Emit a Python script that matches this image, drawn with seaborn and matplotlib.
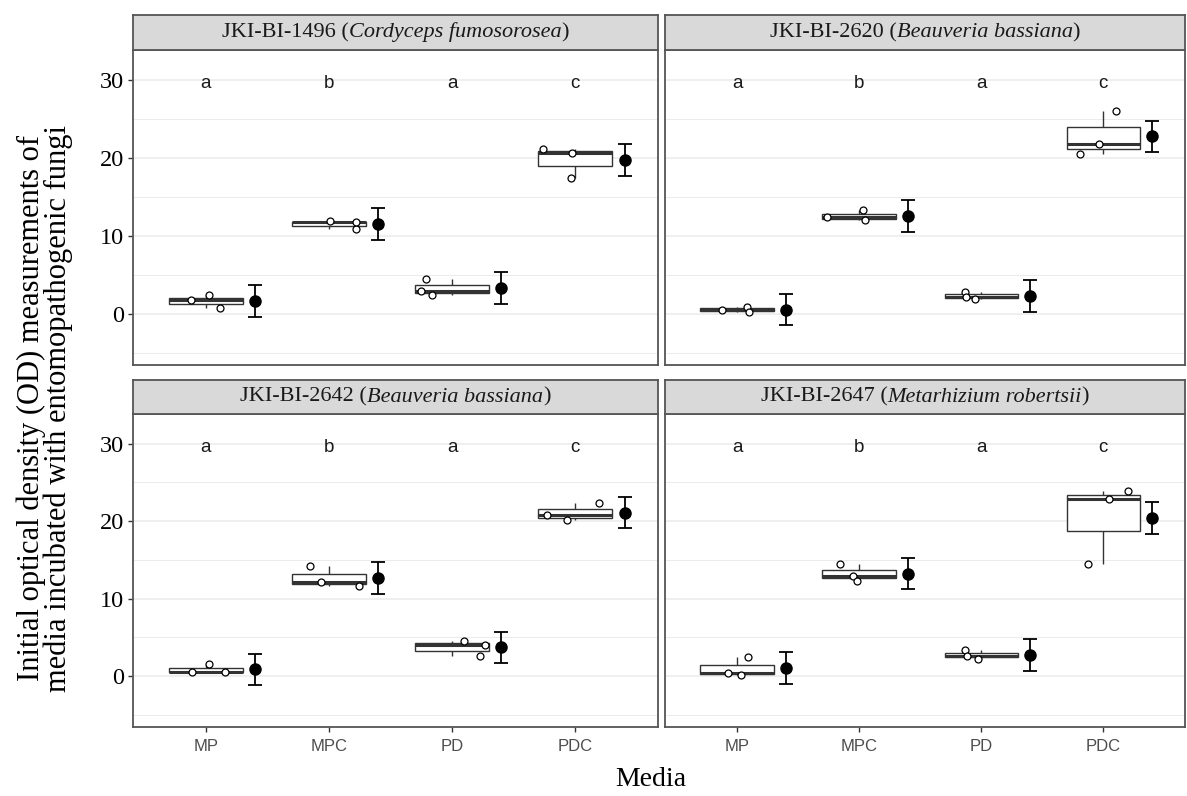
import numpy as np
import pandas as pd
import matplotlib
matplotlib.use("Agg")
import matplotlib.pyplot as plt
import seaborn as sns
from matplotlib.offsetbox import TextArea, HPacker, AnchoredOffsetbox
from matplotlib.ticker import MultipleLocator

# ---------------- data ----------------
media = ["MP", "MPC", "PD", "PDC"]
letters = ["a", "b", "a", "c"]
strains = ["JKI-BI-1496", "JKI-BI-2620", "JKI-BI-2642", "JKI-BI-2647"]
species = ["Cordyceps fumosorosea", "Beauveria bassiana",
           "Beauveria bassiana", "Metarhizium robertsii"]

# three replicate OD values per medium (MP, MPC, PD, PDC)
od_1496 = [[2.35, 0.73, 1.75], [11.83, 10.85, 11.75], [4.45, 2.40, 2.95], [17.4, 21.2, 20.6]]
od_2620 = [[0.81, 0.51, 0.26], [11.96, 12.44, 13.25], [2.78, 1.92, 2.18], [26.0, 21.8, 20.5]]
od_2642 = [[1.54, 0.47, 0.55], [14.23, 12.18, 11.58], [4.01, 4.49, 2.56], [22.4, 20.13, 20.8]]
od_2647 = [[2.48, 0.13, 0.34], [14.44, 12.95, 12.30], [3.38, 2.60, 2.18], [23.9, 22.9, 14.45]]

# half-width of the confidence interval drawn around each mean
ci_1496 = [2.03, 2.03, 2.03, 2.03]
ci_2620 = [2.03, 2.03, 2.03, 2.03]
ci_2642 = [2.04, 2.04, 2.04, 2.04]
ci_2647 = [2.06, 2.06, 2.06, 2.06]

all_od = [od_1496, od_2620, od_2642, od_2647]
all_ci = [ci_1496, ci_2620, ci_2642, ci_2647]

rows = []
for s, od in zip(strains, all_od):
    for m, vals in zip(media, od):
        for v in vals:
            rows.append({"strain": s, "media": m, "od": v})
df = pd.DataFrame(rows)

# ---------------- style ----------------
SERIF = ["Liberation Serif", "DejaVu Serif"]
SANS = ["Liberation Sans", "DejaVu Sans"]
plt.rcParams["font.family"] = SERIF
DARK = "#333333"
GRID = "#EBEBEB"

W, H = 1187, 796
fig = plt.figure(figsize=(W / 100, H / 100), dpi=100)

col_x = [(133, 658), (665, 1185)]
row_y = [(50, 365), (414, 727)]
strip_y = [(15, 50), (380, 414)]

np.random.seed(3)
for i, s in enumerate(strains):
    r, c = divmod(i, 2)
    x0, x1 = col_x[c]
    y0, y1 = row_y[r]
    ax = fig.add_axes([x0 / W, 1 - y1 / H, (x1 - x0) / W, (y1 - y0) / H])
    sub = df[df["strain"] == s]

    # grid
    ax.set_axisbelow(True)
    ax.yaxis.set_major_locator(MultipleLocator(10))
    ax.yaxis.set_minor_locator(MultipleLocator(5))
    ax.grid(True, which="major", color=GRID, lw=1.1)
    ax.grid(True, which="minor", axis="y", color=GRID, lw=0.7)

    sns.boxplot(data=sub, x="media", y="od", order=media, ax=ax, width=0.6,
                color="white", linecolor=DARK, linewidth=1.0, showfliers=False,
                whis=1.5, medianprops={"linewidth": 2.2, "color": DARK},
                capprops={"visible": False})
    sns.stripplot(data=sub, x="media", y="od", order=media, ax=ax, jitter=0.28,
                  color="white", edgecolor="black", linewidth=0.9, size=5.0,
                  marker="o")

    means = sub.groupby("media")["od"].mean().reindex(media).values
    xpos = np.arange(len(media)) + 0.4
    ax.errorbar(xpos, means, yerr=all_ci[i], fmt="o", color="black",
                ms=8, elinewidth=1.3, capsize=5, capthick=1.3, zorder=5)

    for k, lab in enumerate(letters):
        ax.text(k, 29.5, lab, ha="center", va="center", fontsize=13.5,
                family=SANS, color="#1a1a1a")

    ax.set_xlim(-0.59, 3.67)
    ax.set_ylim(-6.6, 33.85)
    ax.set_xlabel("")
    ax.set_ylabel("")
    for sp in ax.spines.values():
        sp.set_color("#555555")
        sp.set_linewidth(1.3)

    ax.tick_params(axis="both", which="both", color=DARK, length=3.5, width=1)
    ax.tick_params(axis="y", which="minor", length=0)
    if c == 0:
        ax.tick_params(axis="y", labelsize=17.5, labelcolor="black", pad=3)
    else:
        ax.tick_params(axis="y", which="major", length=0, labelleft=False)
    if r == 1:
        ax.tick_params(axis="x", labelsize=12, labelcolor="#4D4D4D", pad=5)
        for t in ax.get_xticklabels():
            t.set_family(SANS)
    else:
        ax.tick_params(axis="x", length=0, labelbottom=False)

    # strip
    sy0, sy1 = strip_y[r]
    sax = fig.add_axes([x0 / W, 1 - sy1 / H, (x1 - x0) / W, (sy1 - sy0) / H])
    sax.set_facecolor("#D9D9D9")
    sax.set_xticks([])
    sax.set_yticks([])
    for sp in sax.spines.values():
        sp.set_color("#555555")
        sp.set_linewidth(1.3)
    tp = dict(fontsize=16, family=SERIF, color="#1a1a1a")
    parts = [TextArea(s + " (", textprops=tp),
             TextArea(species[i], textprops=dict(tp, style="italic")),
             TextArea(")", textprops=tp)]
    box = HPacker(children=parts, align="baseline", pad=0, sep=0)
    anch = AnchoredOffsetbox(loc="center", child=box, frameon=False, pad=0,
                             bbox_to_anchor=(0.5, 0.5), bbox_transform=sax.transAxes,
                             borderpad=0)
    sax.add_artist(anch)

fig.text(45 / W, 1 - 408 / H,
         "Initial optical density (OD) measurements of\nmedia incubated with entomopathogenic fungi",
         rotation=90, ha="center", va="center", fontsize=22, family=SERIF,
         multialignment="center", linespacing=0.9)
fig.text(651 / W, 1 - 780 / H, "Media", ha="center", va="center",
         fontsize=20, family=SERIF)

fig.savefig("out.png", dpi=100, facecolor="white")
